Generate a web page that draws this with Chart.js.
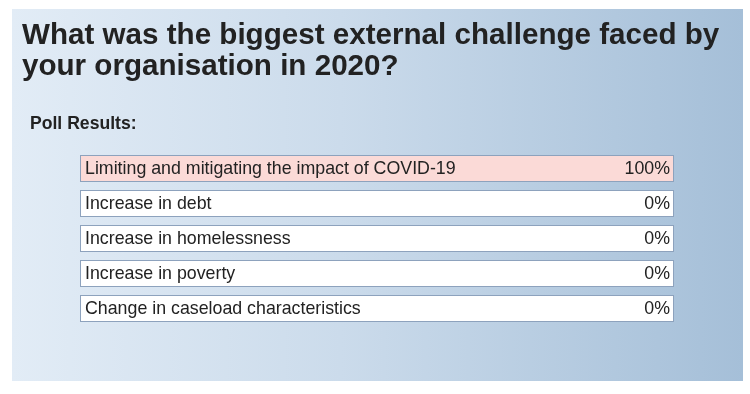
<!DOCTYPE html>
<html>
<head>
<meta charset="utf-8">
<script src="https://cdn.jsdelivr.net/npm/chart.js@4.4.1/dist/chart.umd.min.js"></script>
<style>
  html, body { margin: 0; padding: 0; background: #fff; }
  #panel {
    position: absolute; left: 12px; top: 9px; width: 731px; height: 372px;
    background: linear-gradient(90deg, #e2ecf6 0%, #cbdbeb 45%, #a5bfd8 100%);
  }
  #pollChart { display: block; }
</style>
</head>
<body>
<div id="panel"><canvas id="pollChart" width="731" height="372"></canvas></div>
<script>
// poll options and results (%)
const options = [
    'Limiting and mitigating the impact of COVID-19',
    'Increase in debt',
    'Increase in homelessness',
    'Increase in poverty',
    'Change in caseload characteristics'
];
const votes = [100, 0, 0, 0, 0];
const trackMax = [100, 100, 100, 100, 100];
const question = ['What was the biggest external challenge faced by', 'your organisation in 2020?'];

const FONT = '"Liberation Sans", Arial, Helvetica, sans-serif';

// writes option text and percentages on the boxes
const pollText = {
    id: 'pollText',
    afterDatasetsDraw(chart) {
        const ctx = chart.ctx;
        const area = chart.chartArea;
        const track = chart.getDatasetMeta(1);
        ctx.save();
        ctx.fillStyle = '#222';
        ctx.font = 'bold 17.6px ' + FONT;
        ctx.textAlign = 'left';
        ctx.textBaseline = 'alphabetic';
        ctx.fillText('Poll Results:', 18, 119.5);

        ctx.font = '17.8px ' + FONT;
        ctx.textBaseline = 'middle';
        track.data.forEach((bar, i) => {
            ctx.textAlign = 'left';
            ctx.fillText(options[i], area.left + 5, bar.y + 0.5);
            ctx.textAlign = 'right';
            ctx.fillText(votes[i] + '%', bar.x - 4, bar.y + 0.5);
        });
        ctx.restore();
    }
};

new Chart(document.getElementById('pollChart'), {
    type: 'bar',
    data: {
        labels: options,
        datasets: [{
            label: 'votes',
            data: votes,
            backgroundColor: '#fbdad7',
            borderColor: '#8da2bd',
            borderWidth: ctx => ctx.raw > 0 ? 1 : 0,
            borderSkipped: false,
            grouped: false,
            barPercentage: 0.77,
            categoryPercentage: 1
        }, {
            label: 'track',
            data: trackMax,
            backgroundColor: '#ffffff',
            borderColor: '#8da2bd',
            borderWidth: 1,
            borderSkipped: false,
            grouped: false,
            barPercentage: 0.77,
            categoryPercentage: 1
        }]
    },
    options: {
        indexAxis: 'y',
        responsive: false,
        animation: false,
        layout: { padding: { left: 10, right: 0, top: 0, bottom: 55 } },
        plugins: {
            legend: { display: false },
            tooltip: { enabled: false },
            title: {
                display: true,
                text: question,
                align: 'start',
                color: '#222',
                font: { family: FONT, size: 29.6, weight: 'bold', lineHeight: 1.047 },
                padding: { top: 11.7, bottom: 68.3 }
            }
        },
        scales: {
            x: { display: false, min: 0, max: 100 },
            y: {
                display: true,
                grid: { display: false },
                border: { display: false },
                ticks: { display: false },
                afterFit: s => { s.width = 58; }
            },
            // empty right axis keeps the boxes clear of the panel edge
            yRight: {
                type: 'category',
                axis: 'y',
                position: 'right',
                display: true,
                grid: { display: false },
                border: { display: false },
                ticks: { display: false },
                afterFit: s => { s.width = 69; }
            }
        }
    },
    plugins: [pollText]
});
</script>
</body>
</html>
